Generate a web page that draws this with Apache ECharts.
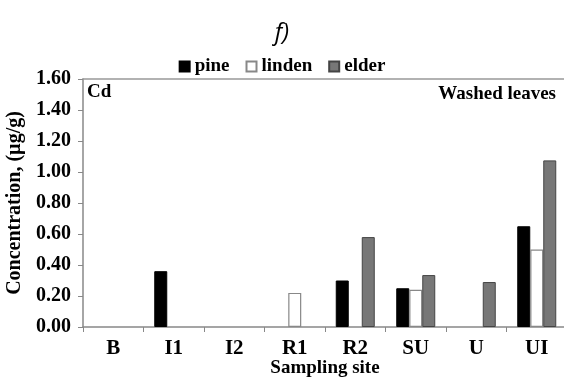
<!DOCTYPE html>
<html><head><meta charset="utf-8">
<script src="https://cdn.jsdelivr.net/npm/echarts@6/dist/echarts.min.js"></script>
<style>html,body{margin:0;padding:0;background:#fff;}#c{width:564px;height:378px;}</style>
</head><body><div id="c"></div>
<script>
const categories = ['B','I1','I2','R1','R2','SU','U','UI'];
const pine   = [null, 0.36, null, null, 0.30, 0.25, null, 0.65];
const linden = [null, null, null, 0.22, null, 0.24, null, 0.50];
const elder  = [null, null, null, null, 0.58, 0.335, 0.29, 1.075];

const serif = '"Liberation Serif","Times New Roman",serif';
const chart = echarts.init(document.getElementById('c'), null, {renderer:'canvas'});
chart.setOption({
  animation:false,
  backgroundColor:'#fff',
  title:{text:'f)', left:'center', top:16, textStyle:{fontFamily:'"Open Sans",sans-serif', fontStyle:'italic', fontWeight:'normal', fontSize:24, color:'#000'}},
  legend:{top:52, left:'center', itemWidth:10, itemHeight:10, itemGap:16, icon:'rect',
    textStyle:{fontFamily:serif, fontWeight:'bold', fontSize:19, color:'#000'},
    data:['pine','linden','elder']},
  grid:{left:83, top:79, right:-3, bottom:51, containLabel:false, outerBoundsMode:'none'},
  xAxis:[{type:'category', data:categories, position:'bottom',
    axisLine:{lineStyle:{color:'#888', width:1.5}},
    axisTick:{show:true, length:5, lineStyle:{color:'#888'}},
    axisLabel:{fontFamily:serif, fontWeight:'bold', fontSize:21, color:'#000', margin:11},
    name:'Sampling site', nameLocation:'middle', nameGap:32, nameMoveOverlap:false,
    nameTextStyle:{fontFamily:serif, fontWeight:'bold', fontSize:19, color:'#000'}},
   {type:'category', data:categories, position:'top',
    axisLine:{show:true, lineStyle:{color:'#999', width:1.5}}, axisTick:{show:false}, axisLabel:{show:false}}],
  yAxis:{type:'value', min:0, max:1.6, interval:0.2,
    axisLine:{show:true, lineStyle:{color:'#888', width:1.5}},
    axisTick:{show:true, length:5, lineStyle:{color:'#888'}},
    splitLine:{show:false},
    axisLabel:{fontFamily:serif, fontWeight:'bold', fontSize:20, color:'#000', margin:12, formatter:v=>v.toFixed(2)},
    name:'Concentration, (µg/g)', nameLocation:'middle', nameGap:58, nameMoveOverlap:false,
    nameTextStyle:{fontFamily:serif, fontWeight:'bold', fontSize:20, color:'#000'}},
  series:[
    {name:'pine', type:'bar', data:pine, barWidth:13, barGap:'0%', itemStyle:{color:'#000', borderColor:'#000', borderWidth:1}},
    {name:'linden', type:'bar', data:linden, barWidth:13, barGap:'0%', itemStyle:{color:'#fff', borderColor:'#888', borderWidth:1.2}},
    {name:'elder', type:'bar', data:elder, barWidth:13, barGap:'0%', itemStyle:{color:'#777', borderColor:'#444', borderWidth:1}}
  ],
  graphic:[
    {type:'text', left:87, top:83, style:{text:'Cd', font:'bold 19px '+serif, fill:'#000'}},
    {type:'text', right:8, top:85, style:{text:'Washed leaves', font:'bold 19px '+serif, fill:'#000'}}
  ]
});
</script></body></html>
